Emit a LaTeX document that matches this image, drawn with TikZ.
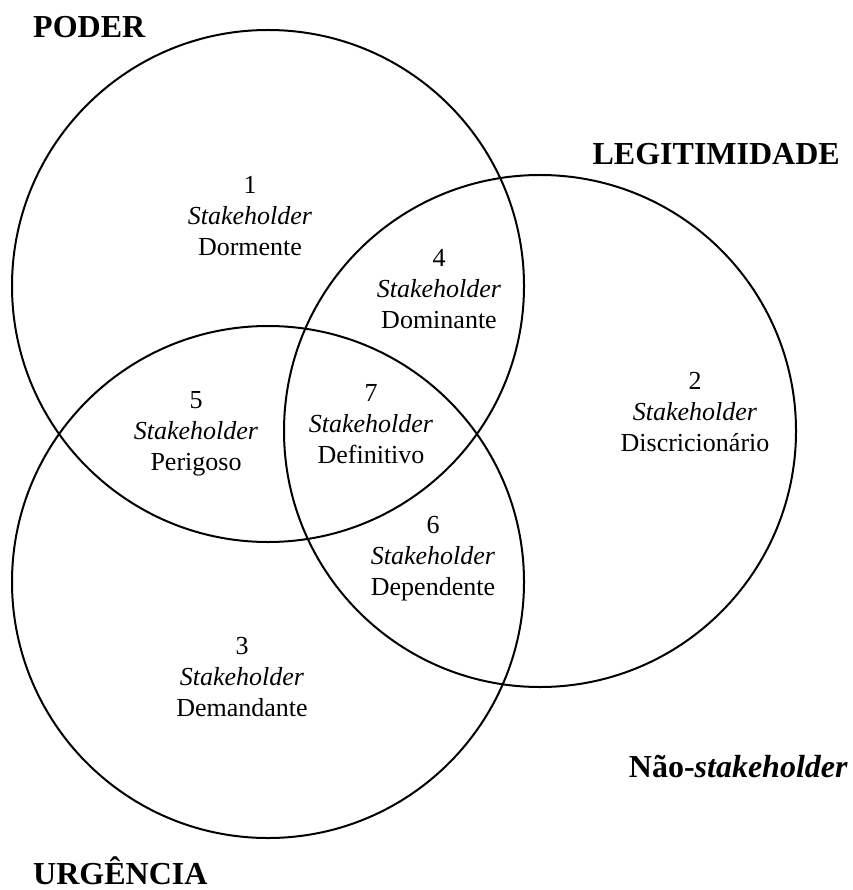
\documentclass[tikz,border=0pt]{standalone}
\usepackage{fontspec}
\setmainfont{Liberation Serif}
\begin{document}
\begin{tikzpicture}[x=1pt,y=-1pt,
  ring/.style={draw=black,line width=2pt},
  region/.style={align=center,inner sep=0pt,font=\fontsize{26}{31}\selectfont},
  setlabel/.style={inner sep=0pt,font=\fontsize{32}{36}\selectfont\bfseries}]
\useasboundingbox (0,0) rectangle (852,890);
\fill[white] (0,0) rectangle (852,890);
% circles
\node[ring,circle,minimum size=512pt,inner sep=0pt] (poder) at (268,286) {};
\node[ring,circle,minimum size=512pt,inner sep=0pt] (legit) at (540,431) {};
\node[ring,circle,minimum size=512pt,inner sep=0pt] (urg) at (268,582) {};
% set labels
\node[setlabel,anchor=base west] (lp) at (33,38) {PODER};
\node[setlabel,anchor=base east] (ll) at (840,165) {LEGITIMIDADE};
\node[setlabel,anchor=base west] (lu) at (33,884) {URGÊNCIA};
\node[setlabel,anchor=base east] (ln) at (848,777) {Não-\textit{stakeholder}};
% regions
\node[region] (r1) at (250,216) {1\\\textit{Stakeholder}\\Dormente};
\node[region] (r4) at (439,289) {4\\\textit{Stakeholder}\\Dominante};
\node[region] (r2) at (695,412) {2\\\textit{Stakeholder}\\Discricionário};
\node[region] (r5) at (196,434) {5\\\textit{Stakeholder}\\Perigoso};
\node[region] (r7) at (371,424) {7\\\textit{Stakeholder}\\Definitivo};
\node[region] (r6) at (433,559) {6\\\textit{Stakeholder}\\Dependente};
\node[region] (r3) at (242,677) {3\\\textit{Stakeholder}\\Demandante};
\end{tikzpicture}
\end{document}
